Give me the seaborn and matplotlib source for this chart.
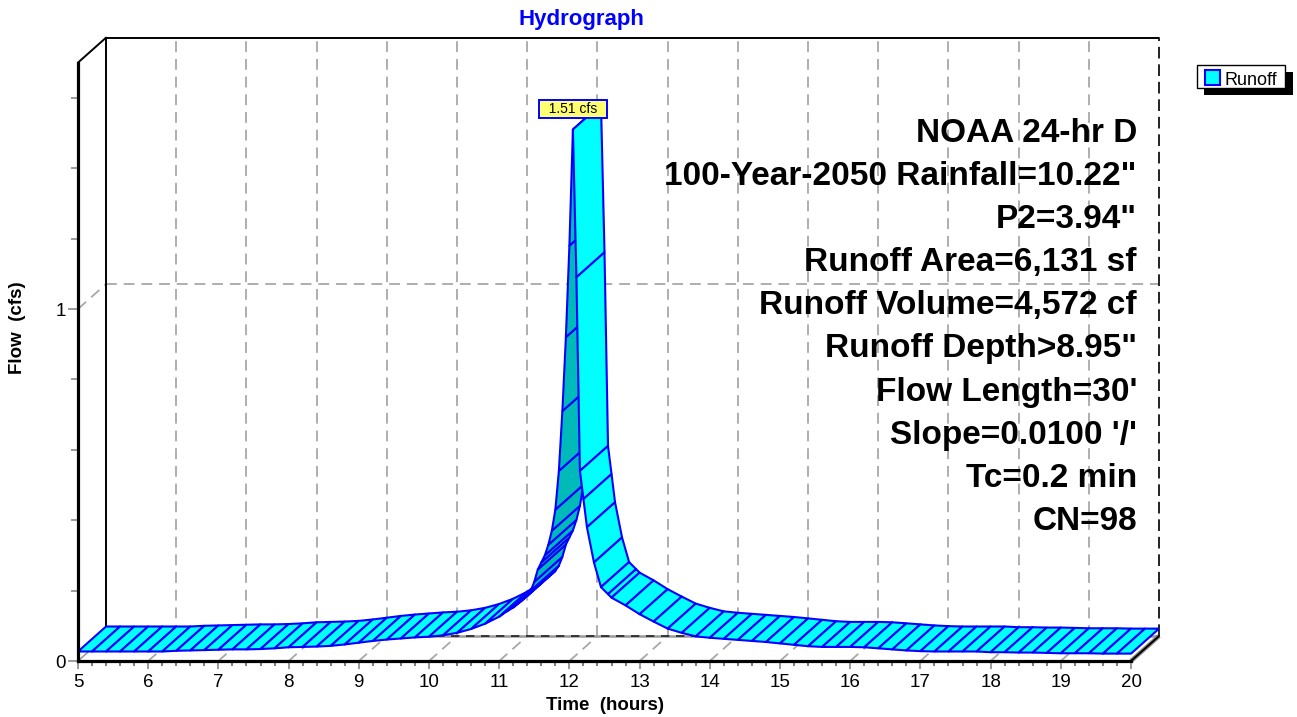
import matplotlib
matplotlib.use("Agg")
import matplotlib.pyplot as plt
from matplotlib.patches import Rectangle
from matplotlib.ticker import FixedLocator, NullFormatter
import numpy as np
import seaborn as sns

# ---- runoff hydrograph (time in hours, flow in cfs) ----
time_hr = [5.0, 5.2, 5.4, 5.6, 5.8, 6.0, 6.2, 6.4, 6.6, 6.8, 7.0, 7.2, 7.4, 7.6,
           7.8, 8.0, 8.2, 8.4, 8.6, 8.8, 9.0, 9.2, 9.4, 9.6, 9.8, 10.0, 10.2,
           10.4, 10.6, 10.8, 11.0, 11.1, 11.2, 11.3, 11.4, 11.45, 11.5, 11.55,
           11.6, 11.65, 11.7, 11.75, 11.8, 11.85, 11.9, 11.95, 12.0, 12.05,
           12.1, 12.15, 12.2, 12.25, 12.35, 12.45, 12.55, 12.6, 12.8, 13.0,
           13.2, 13.4, 13.6, 13.8, 14.0, 14.2, 14.4, 14.6, 14.8, 15.0, 15.2,
           15.4, 15.6, 15.8, 16.0, 16.2, 16.4, 16.6, 16.8, 17.0, 17.2, 17.4,
           17.6, 17.8, 18.0, 18.2, 18.4, 18.6, 18.8, 19.0, 19.2, 19.4, 19.6,
           19.8, 20.0]
flow_cfs = [0.027, 0.027, 0.027, 0.027, 0.027, 0.027, 0.027, 0.029, 0.030,
            0.031, 0.032, 0.033, 0.033, 0.034, 0.036, 0.039, 0.040, 0.041,
            0.043, 0.047, 0.052, 0.057, 0.061, 0.064, 0.067, 0.069, 0.073,
            0.080, 0.091, 0.106, 0.126, 0.140, 0.152, 0.168, 0.185, 0.200,
            0.225, 0.260, 0.280, 0.300, 0.330, 0.370, 0.430, 0.540, 0.710,
            0.920, 1.180, 1.510, 1.090, 0.540, 0.460, 0.380, 0.280, 0.210,
            0.190, 0.180, 0.158, 0.133, 0.112, 0.092, 0.080, 0.070, 0.066,
            0.063, 0.060, 0.057, 0.054, 0.050, 0.046, 0.042, 0.040, 0.040,
            0.040, 0.039, 0.036, 0.033, 0.030, 0.028, 0.027, 0.027, 0.027,
            0.027, 0.025, 0.025, 0.024, 0.024, 0.023, 0.022, 0.022, 0.022,
            0.021, 0.021, 0.021]

x_ticks = list(range(5, 21))
y_ticks = [0, 1]
y_minor_step = 0.2
x_minor_step = 0.2
y_axis_top = 1.70

series_name = "Runoff"
title = "Hydrograph"
x_label = "Time  (hours)"
y_label = "Flow  (cfs)"
notes = [
    "NOAA 24-hr D",
    '100-Year-2050 Rainfall=10.22"',
    'P2=3.94"',
    "Runoff Area=6,131 sf",
    "Runoff Volume=4,572 cf",
    'Runoff Depth>8.95"',
    "Flow Length=30'",
    "Slope=0.0100 '/'",
    "Tc=0.2 min",
    "CN=98",
]

# ---- styling ----
CYAN = "#00FFFF"
UNDER = "#00B9B9"
EDGE = "#0000FF"
GRID = "#A8A8A8"
DX, DY = 0.40, 0.071          # depth offset of the 3-D box (hours, cfs)

sns.set_theme(style="white")
plt.rcParams["font.family"] = ["Liberation Sans", "DejaVu Sans"]

W_PX, H_PX = 1297, 717
fig = plt.figure(figsize=(W_PX / 100, H_PX / 100), dpi=100)
fig.patch.set_facecolor("white")

x0, x1 = x_ticks[0], x_ticks[-1]
ax_left, ax_bottom = 78, 717 - 661
ax_w = (x1 + DX - x0) * 70.2
ax_h = (y_axis_top + DY) * 352
ax = fig.add_axes([ax_left / W_PX, ax_bottom / H_PX, ax_w / W_PX, ax_h / H_PX])
ax.set_facecolor("none")
ax.set_xlim(x0, x1 + DX)
ax.set_ylim(0, y_axis_top + DY)

# ---- axes, ticks ----
sns.despine(ax=ax, top=True, right=True)
for side in ("bottom", "left"):
    ax.spines[side].set_color("black")
    ax.spines[side].set_linewidth(2.3)
    ax.spines[side].set_zorder(6)
ax.spines["bottom"].set_bounds(x0, x1)
ax.spines["left"].set_bounds(0, y_axis_top)

ax.xaxis.set_major_locator(FixedLocator(x_ticks))
x_minor = [v for v in np.arange(x0, x1 + 1e-9, x_minor_step)
           if min(abs(v - t) for t in x_ticks) > 1e-6]
ax.xaxis.set_minor_locator(FixedLocator(x_minor))
ax.yaxis.set_major_locator(FixedLocator(y_ticks))
y_minor = [v for v in np.arange(0, y_axis_top + 1e-9, y_minor_step)
           if min(abs(v - t) for t in y_ticks) > 1e-6]
ax.yaxis.set_minor_locator(FixedLocator(y_minor))
ax.xaxis.set_minor_formatter(NullFormatter())
ax.yaxis.set_minor_formatter(NullFormatter())
ax.set_xticklabels([str(t) for t in x_ticks])
ax.set_yticklabels([str(t) for t in y_ticks])

ax.tick_params(axis="x", which="major", direction="out", length=5.5, width=1.2,
               color="#8A8A8A", pad=3.8, labelsize=13.5, labelcolor="black",
               bottom=True)
ax.tick_params(axis="x", which="minor", direction="out", length=3.8, width=1.2,
               color="#666666", bottom=True)
ax.tick_params(axis="y", which="major", direction="out", length=7.5, width=1.2,
               color="#8A8A8A", pad=1, labelsize=13.5, labelcolor="black",
               left=True)
ax.tick_params(axis="y", which="minor", direction="out", length=4.8, width=1.2,
               color="#8A8A8A", left=True)

dash = dict(color=GRID, lw=1.3, dashes=(6.0, 3.8), zorder=1)
top = y_axis_top + DY

# back wall: vertical grid at every hour, horizontal grid at each labelled flow
for h in x_ticks[1:-1]:
    ax.plot([h + DX, h + DX], [DY, top], **dash)
for yv in y_ticks[1:]:
    ax.plot([x0 + DX, x1 + DX], [yv + DY, yv + DY], **dash)
    ax.plot([x0, x0 + DX], [yv, yv + DY], **dash)
# floor: diagonal grid from the front axis back to the wall
for h in x_ticks[1:-1]:
    ax.plot([h, h + DX], [0, DY], **dash)
ax.plot([x0, x0 + DX], [0, DY], color="#909090", lw=1.0, zorder=1)
ax.plot([x0 + DX, x1 + DX], [DY, DY], color="#9A9A9A", lw=1.8, zorder=1,
        solid_capstyle="butt")
ax.plot([x0 + DX, x1 + DX], [DY, DY], color="#222222", lw=1.2,
        dashes=(5, 4), zorder=1.1)

# box outline
box = dict(color="black", lw=1.4, zorder=2, clip_on=False)
ax.plot([x0, x0 + DX], [y_axis_top, top], **box)
ax.plot([x0 + DX, x1 + DX], [top, top], **box)
ax.plot([x0 + DX, x0 + DX], [DY, top], **box)
ax.plot([x1 + DX, x1 + DX], [DY, top], color="#222222", lw=1.4,
        dashes=(6.0, 3.0), zorder=2, clip_on=False)
ax.plot([x1, x1 + DX], [0, DY], color="#8A8A8A", lw=3.2, zorder=2,
        clip_on=False, solid_capstyle="butt")
ax.plot([x1, x1 + DX], [0, DY], color="black", lw=1.4, zorder=2.1,
        clip_on=False)

# ---- hydrograph ribbon, drawn strip by strip from front to back ----
t = np.asarray(time_hr, dtype=float)
q = np.asarray(flow_cfs, dtype=float)
for i in range(len(t) - 1):
    dt, dq = t[i + 1] - t[i], q[i + 1] - q[i]
    facing_up = (dt * DY - dq * DX) >= 0
    xs = [t[i], t[i + 1], t[i + 1] + DX, t[i] + DX]
    ys = [q[i], q[i + 1], q[i + 1] + DY, q[i] + DY]
    ax.fill(xs, ys, facecolor=CYAN if facing_up else UNDER, edgecolor=EDGE,
            lw=1.5, joinstyle="round", zorder=3 + i * 1e-3)

# peak flow tag
ip = int(np.argmax(q))
ax.annotate(f"  {q[ip]:.2f} cfs  ", xy=(t[ip], q[ip]), xytext=(0, 10),
            textcoords="offset points", ha="center", va="bottom", fontsize=10,
            color="black", zorder=8,
            bbox=dict(boxstyle="square,pad=0.15", fc="#FFFF70", ec=EDGE, lw=1.4))

# ---- titles and labels ----
fig.text(581.5 / W_PX, 1 - 25 / H_PX, title, ha="center", va="baseline",
         fontsize=16, fontweight="bold", color="#0000FF")
fig.text(605 / W_PX, 1 - 710 / H_PX, x_label, ha="center", va="baseline",
         fontsize=13.5, fontweight="bold", color="black")
fig.text(18 / W_PX, 1 - 328 / H_PX, y_label, ha="center", va="center",
         rotation=90, fontsize=13.5, fontweight="bold", color="black")

for k, s in enumerate(notes):
    fig.text(1137 / W_PX, 1 - (142 + 43.1 * k) / H_PX, s, ha="right",
             va="baseline", fontsize=24, fontweight="bold", color="black",
             zorder=9)

# ---- legend with drop shadow ----
def px_rect(x, y, w, h, **kw):
    return Rectangle((x / W_PX, 1 - (y + h) / H_PX), w / W_PX, h / H_PX,
                     transform=fig.transFigure, **kw)

fig.patches.append(px_rect(1204, 72, 89, 23, fc="black", ec="none"))
fig.patches.append(px_rect(1197, 65, 88, 23, fc="white", ec="black", lw=1))
fig.patches.append(px_rect(1205, 70, 14.5, 14.5, fc=CYAN, ec=EDGE, lw=1.5))
fig.text(1225 / W_PX, 1 - 85 / H_PX, series_name, ha="left", va="baseline",
         fontsize=13, color="black")

fig.savefig("out.png", dpi=100, facecolor="white")
